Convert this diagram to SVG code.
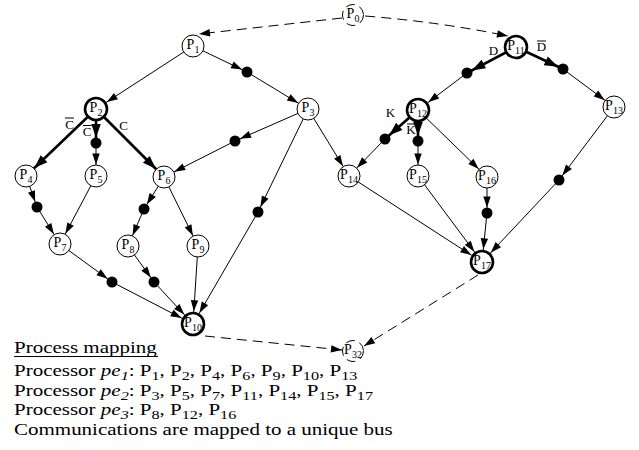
<svg xmlns="http://www.w3.org/2000/svg" width="639" height="450" viewBox="0 0 639 450">
<style>
.e{fill:none;stroke:#000;stroke-width:1}
.eb{fill:none;stroke:#000;stroke-width:2.6}
.ed{fill:none;stroke:#000;stroke-width:1;stroke-dasharray:10,6}
.n{fill:#fff;stroke:#000;stroke-width:1}
.nb{fill:#fff;stroke:#000;stroke-width:2.6}
.nd{fill:#fff;stroke:#000;stroke-width:1;stroke-dasharray:9,5}
.dot{fill:#000}
.lb{font-family:"Liberation Serif","Times New Roman",serif;font-size:14px;fill:#000;text-anchor:middle}
.s{font-size:10px}
.el{font-family:"Liberation Serif","Times New Roman",serif;font-size:13px;fill:#000;text-anchor:middle}
.ov{stroke:#000;stroke-width:1}
.bt{font-family:"Liberation Serif","Times New Roman",serif;font-size:17.5px;fill:#000}
.bs{font-size:13.5px}
.ah{fill:#000;stroke:none}
</style>
<defs>
<marker id="mN" markerUnits="userSpaceOnUse" markerWidth="1" markerHeight="1" orient="auto" overflow="visible"><path class="ah" d="M-11.5,0 L-22.5,-3.7 L-22.5,3.7 Z"/></marker>
<marker id="mB" markerUnits="userSpaceOnUse" markerWidth="1" markerHeight="1" orient="auto" overflow="visible"><path class="ah" d="M-12.8,0 L-23.8,-3.7 L-23.8,3.7 Z"/></marker>
<marker id="mD" markerUnits="userSpaceOnUse" markerWidth="1" markerHeight="1" orient="auto" overflow="visible"><path class="ah" d="M-5.5,0 L-16.5,-3.7 L-16.5,3.7 Z"/></marker>
<marker id="mBD" markerUnits="userSpaceOnUse" markerWidth="1" markerHeight="1" orient="auto" overflow="visible"><path class="ah" d="M-5.5,0 L-19,-4.8 L-19,4.8 Z"/></marker>
<marker id="mBN" markerUnits="userSpaceOnUse" markerWidth="1" markerHeight="1" orient="auto" overflow="visible"><path class="ah" d="M-11.5,0 L-25,-4.8 L-25,4.8 Z"/></marker>
<marker id="mE" markerUnits="userSpaceOnUse" markerWidth="1" markerHeight="1" orient="auto" overflow="visible"><path class="ah" d="M0,0 L-11,-3.7 L-11,3.7 Z"/></marker>
</defs>
<rect width="639" height="450" fill="#fff"/>
<g id="connectors">
<path class="e" d="M193,46 L96,109" marker-end="url(#mB)"/>
<path class="e" d="M193,46 L247,72" marker-end="url(#mD)"/>
<path class="e" d="M247,72 L308,109" marker-end="url(#mN)"/>
<path class="eb" d="M96,109 L26,176" marker-end="url(#mBN)"/>
<path class="eb" d="M96,109 L96,143" marker-end="url(#mBD)"/>
<path class="e" d="M96,143 L96,176" marker-end="url(#mN)"/>
<path class="eb" d="M96,109 L164,177" marker-end="url(#mBN)"/>
<path class="e" d="M308,109 L235,141" marker-end="url(#mD)"/>
<path class="e" d="M235,141 L164,177" marker-end="url(#mN)"/>
<path class="e" d="M308,109 L258,212" marker-end="url(#mD)"/>
<path class="e" d="M258,212 L193,324" marker-end="url(#mB)"/>
<path class="e" d="M308,109 L349,176" marker-end="url(#mN)"/>
<path class="e" d="M26,176 L37,207" marker-end="url(#mD)"/>
<path class="e" d="M37,207 L60,244" marker-end="url(#mN)"/>
<path class="e" d="M96,176 L60,244" marker-end="url(#mN)"/>
<path class="e" d="M164,177 L144,209" marker-end="url(#mD)"/>
<path class="e" d="M144,209 L128,246" marker-end="url(#mN)"/>
<path class="e" d="M164,177 L198,246" marker-end="url(#mN)"/>
<path class="e" d="M60,244 L112,282" marker-end="url(#mD)"/>
<path class="e" d="M112,282 L193,324" marker-end="url(#mB)"/>
<path class="e" d="M128,246 L154,282" marker-end="url(#mD)"/>
<path class="e" d="M154,282 L193,324" marker-end="url(#mB)"/>
<path class="e" d="M198,246 L193,324" marker-end="url(#mB)"/>
<path class="eb" d="M516,47 L467,73" marker-end="url(#mBD)"/>
<path class="e" d="M467,73 L418,110" marker-end="url(#mB)"/>
<path class="eb" d="M516,47 L563,69" marker-end="url(#mBD)"/>
<path class="e" d="M563,69 L614,107" marker-end="url(#mN)"/>
<path class="eb" d="M418,110 L385,139" marker-end="url(#mBD)"/>
<path class="e" d="M385,139 L349,176" marker-end="url(#mN)"/>
<path class="eb" d="M418,110 L418,141" marker-end="url(#mBD)"/>
<path class="e" d="M418,141 L418,176" marker-end="url(#mN)"/>
<path class="e" d="M418,110 L487,177" marker-end="url(#mN)"/>
<path class="e" d="M614,107 L559,180" marker-end="url(#mD)"/>
<path class="e" d="M559,180 L482,262" marker-end="url(#mB)"/>
<path class="e" d="M349,176 L482,262" marker-end="url(#mB)"/>
<path class="e" d="M418,176 L482,262" marker-end="url(#mB)"/>
<path class="e" d="M487,177 L487,213" marker-end="url(#mD)"/>
<path class="e" d="M487,213 L482,262" marker-end="url(#mB)"/>
<path class="ed" d="M342,18 L199,34" marker-end="url(#mE)"/>
<path class="ed" d="M365,16 Q440,22 508,36" marker-end="url(#mE)"/>
<path class="ed" d="M205,336 L342,350" marker-end="url(#mE)"/>
<path class="ed" d="M478,275 L364,346" marker-end="url(#mE)"/>
</g>
<g id="c1"><circle class="dot" cx="247" cy="72" r="5.5"/></g>
<g id="c2"><circle class="dot" cx="235" cy="141" r="5.5"/></g>
<g id="c3"><circle class="dot" cx="96" cy="143" r="5.5"/></g>
<g id="c4"><circle class="dot" cx="37" cy="207" r="5.5"/></g>
<g id="c5"><circle class="dot" cx="144" cy="209" r="5.5"/></g>
<g id="c6"><circle class="dot" cx="258" cy="212" r="5.5"/></g>
<g id="c7"><circle class="dot" cx="112" cy="282" r="5.5"/></g>
<g id="c8"><circle class="dot" cx="154" cy="282" r="5.5"/></g>
<g id="c9"><circle class="dot" cx="467" cy="73" r="5.5"/></g>
<g id="c10"><circle class="dot" cx="563" cy="69" r="5.5"/></g>
<g id="c11"><circle class="dot" cx="385" cy="139" r="5.5"/></g>
<g id="c12"><circle class="dot" cx="418" cy="141" r="5.5"/></g>
<g id="c13"><circle class="dot" cx="559" cy="180" r="5.5"/></g>
<g id="c14"><circle class="dot" cx="487" cy="213" r="5.5"/></g>
<g id="P0"><circle class="nd" cx="353" cy="15" r="10.5"/><text class="lb" x="353" y="18.2">P<tspan class="s" dy="3.5">0</tspan></text></g>
<g id="P1"><circle class="n" cx="193" cy="46" r="11"/><text class="lb" x="193" y="49.2">P<tspan class="s" dy="3.5">1</tspan></text></g>
<g id="P2"><circle class="nb" cx="96" cy="109" r="11"/><text class="lb" x="96" y="112.2">P<tspan class="s" dy="3.5">2</tspan></text></g>
<g id="P3"><circle class="n" cx="308" cy="109" r="11"/><text class="lb" x="308" y="112.2">P<tspan class="s" dy="3.5">3</tspan></text></g>
<g id="P4"><circle class="n" cx="26" cy="176" r="11"/><text class="lb" x="26" y="179.2">P<tspan class="s" dy="3.5">4</tspan></text></g>
<g id="P5"><circle class="n" cx="96" cy="176" r="11"/><text class="lb" x="96" y="179.2">P<tspan class="s" dy="3.5">5</tspan></text></g>
<g id="P6"><circle class="n" cx="164" cy="177" r="11"/><text class="lb" x="164" y="180.2">P<tspan class="s" dy="3.5">6</tspan></text></g>
<g id="P7"><circle class="n" cx="60" cy="244" r="11"/><text class="lb" x="60" y="247.2">P<tspan class="s" dy="3.5">7</tspan></text></g>
<g id="P8"><circle class="n" cx="128" cy="246" r="11"/><text class="lb" x="128" y="249.2">P<tspan class="s" dy="3.5">8</tspan></text></g>
<g id="P9"><circle class="n" cx="198" cy="246" r="11"/><text class="lb" x="198" y="249.2">P<tspan class="s" dy="3.5">9</tspan></text></g>
<g id="P10"><circle class="nb" cx="193" cy="324" r="11"/><text class="lb" x="193" y="327.2">P<tspan class="s" dy="3.5">10</tspan></text></g>
<g id="P11"><circle class="nb" cx="516" cy="47" r="11"/><text class="lb" x="516" y="50.2">P<tspan class="s" dy="3.5">11</tspan></text></g>
<g id="P12"><circle class="nb" cx="418" cy="110" r="11"/><text class="lb" x="418" y="113.2">P<tspan class="s" dy="3.5">12</tspan></text></g>
<g id="P13"><circle class="n" cx="614" cy="107" r="11"/><text class="lb" x="614" y="110.2">P<tspan class="s" dy="3.5">13</tspan></text></g>
<g id="P14"><circle class="n" cx="349" cy="176" r="11"/><text class="lb" x="349" y="179.2">P<tspan class="s" dy="3.5">14</tspan></text></g>
<g id="P15"><circle class="n" cx="418" cy="176" r="11"/><text class="lb" x="418" y="179.2">P<tspan class="s" dy="3.5">15</tspan></text></g>
<g id="P16"><circle class="n" cx="487" cy="177" r="11"/><text class="lb" x="487" y="180.2">P<tspan class="s" dy="3.5">16</tspan></text></g>
<g id="P17"><circle class="nb" cx="482" cy="262" r="11"/><text class="lb" x="482" y="265.2">P<tspan class="s" dy="3.5">17</tspan></text></g>
<g id="P32"><circle class="nd" cx="353" cy="351" r="10.5"/><text class="lb" x="353" y="354.2">P<tspan class="s" dy="3.5">32</tspan></text></g>
<g id="edge-labels">
<text class="el" x="69.5" y="129">C</text><line class="ov" x1="65" y1="118" x2="74" y2="118"/>
<text class="el" x="87" y="136">C</text><line class="ov" x1="83" y1="125.5" x2="91.5" y2="125.5"/>
<text class="el" x="123.5" y="130">C</text>
<text class="el" x="493.5" y="55">D</text>
<text class="el" x="541.5" y="51">D</text><line class="ov" x1="537" y1="41" x2="546" y2="41"/>
<text class="el" x="390.5" y="117">K</text>
<text class="el" x="411" y="134">K</text><line class="ov" x1="407" y1="124" x2="415" y2="124"/>
</g>
<g id="mapping" class="bt" transform="translate(14,0) scale(1.2,1)">
<text x="0" y="353">Process mapping</text>
<line x1="0" y1="356.5" x2="120" y2="356.5" stroke="#000" stroke-width="1"/>
<text x="0" y="376.5">Processor <tspan font-style="italic">pe</tspan><tspan font-style="italic" class="bs" dy="4">1</tspan><tspan dy="-4">: P</tspan><tspan class="bs" dy="4">1</tspan><tspan dy="-4">, P</tspan><tspan class="bs" dy="4">2</tspan><tspan dy="-4">, P</tspan><tspan class="bs" dy="4">4</tspan><tspan dy="-4">, P</tspan><tspan class="bs" dy="4">6</tspan><tspan dy="-4">, P</tspan><tspan class="bs" dy="4">9</tspan><tspan dy="-4">, P</tspan><tspan class="bs" dy="4">10</tspan><tspan dy="-4">, P</tspan><tspan class="bs" dy="4">13</tspan></text>
<text x="0" y="396">Processor <tspan font-style="italic">pe</tspan><tspan font-style="italic" class="bs" dy="4">2</tspan><tspan dy="-4">: P</tspan><tspan class="bs" dy="4">3</tspan><tspan dy="-4">, P</tspan><tspan class="bs" dy="4">5</tspan><tspan dy="-4">, P</tspan><tspan class="bs" dy="4">7</tspan><tspan dy="-4">, P</tspan><tspan class="bs" dy="4">11</tspan><tspan dy="-4">, P</tspan><tspan class="bs" dy="4">14</tspan><tspan dy="-4">, P</tspan><tspan class="bs" dy="4">15</tspan><tspan dy="-4">, P</tspan><tspan class="bs" dy="4">17</tspan></text>
<text x="0" y="415.5">Processor <tspan font-style="italic">pe</tspan><tspan font-style="italic" class="bs" dy="4">3</tspan><tspan dy="-4">: P</tspan><tspan class="bs" dy="4">8</tspan><tspan dy="-4">, P</tspan><tspan class="bs" dy="4">12</tspan><tspan dy="-4">, P</tspan><tspan class="bs" dy="4">16</tspan></text>
<text x="0" y="435.5">Communications are mapped to a unique bus</text>
</g>
</svg>
